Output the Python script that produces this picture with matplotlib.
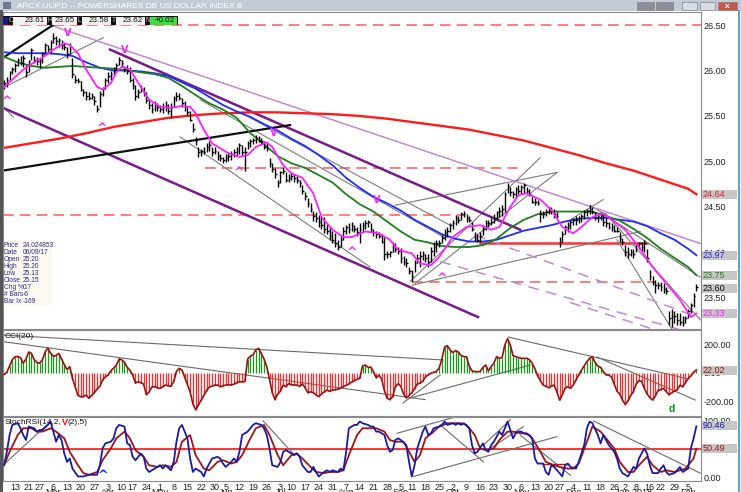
import numpy as np
import matplotlib.pyplot as plt
from matplotlib.patches import Rectangle

plt.rcParams['font.family'] = ['Liberation Sans', 'DejaVu Sans']

# daily bars, UUP Feb 7 2017 .. Feb 8 2018 (bar index 0..253)
high = [
    25.90, 25.93, 26.00, 26.04, 26.08, 26.14, 26.16, 26.17, 26.06, 26.12,
    26.25, 26.16, 26.15, 26.14, 26.20, 26.30, 26.28, 26.34, 26.41, 26.38,
    26.36, 26.33, 26.30, 26.26, 26.30, 26.14, 25.95, 25.92, 25.88, 25.80,
    25.77, 25.76, 25.75, 25.72, 25.62, 25.78, 25.82, 25.92, 25.98, 26.00,
    26.04, 26.08, 26.15, 26.12, 26.05, 26.06, 26.04, 25.92, 25.84, 25.80,
    25.84, 25.82, 25.76, 25.68, 25.64, 25.66, 25.64, 25.62, 25.64, 25.66,
    25.63, 25.64, 25.72, 25.76, 25.75, 25.70, 25.66, 25.60, 25.56, 25.42,
    25.27, 25.16, 25.14, 25.16, 25.20, 25.22, 25.16, 25.16, 25.12, 25.08,
    25.05, 25.08, 25.10, 25.12, 25.14, 25.16, 25.20, 25.18, 25.16, 25.22,
    25.25, 25.26, 25.29, 25.28, 25.26, 25.22, 25.20, 25.04, 24.98, 24.93,
    24.80, 24.90, 24.94, 24.88, 24.86, 24.88, 24.86, 24.84, 24.80, 24.74,
    24.66, 24.60, 24.54, 24.46, 24.44, 24.41, 24.40, 24.39, 24.32, 24.28,
    24.24, 24.21, 24.14, 24.18, 24.28, 24.30, 24.32, 24.34, 24.30, 24.28,
    24.32, 24.34, 24.36, 24.36, 24.32, 24.26, 24.24, 24.22, 24.20, 24.17,
    24.02, 24.02, 24.12, 24.10, 24.06, 24.05, 23.96, 23.94, 23.84, 23.81,
    23.92, 23.98, 24.02, 24.02, 23.98, 23.98, 24.06, 24.12, 24.14, 24.14,
    24.19, 24.26, 24.28, 24.32, 24.36, 24.41, 24.40, 24.44, 24.46, 24.42,
    24.40, 24.34, 24.22, 24.20, 24.22, 24.30, 24.36, 24.36, 24.38, 24.42,
    24.46, 24.50, 24.52, 24.67, 24.76, 24.72, 24.68, 24.72, 24.74, 24.74,
    24.76, 24.72, 24.70, 24.62, 24.60, 24.58, 24.47, 24.46, 24.48, 24.50,
    24.50, 24.48, 24.44, 24.17, 24.24, 24.30, 24.34, 24.36, 24.38, 24.40,
    24.40, 24.42, 24.47, 24.48, 24.52, 24.50, 24.44, 24.42, 24.44, 24.41,
    24.38, 24.34, 24.32, 24.30, 24.28, 24.22, 24.16, 24.08, 24.06, 24.04,
    24.04, 24.10, 24.12, 24.12, 24.14, 24.04, 23.81, 23.74, 23.70, 23.68,
    23.68, 23.66, 23.62, 23.36, 23.38, 23.36, 23.34, 23.34, 23.30, 23.30,
    23.38, 23.44, 23.55, 23.65]
low = [
    25.80, 25.82, 25.88, 25.96, 25.98, 26.05, 26.06, 26.04, 25.93, 25.98,
    26.12, 26.08, 26.06, 26.03, 26.08, 26.18, 26.20, 26.19, 26.30, 26.28,
    26.26, 26.24, 26.22, 26.14, 26.18, 25.92, 25.86, 25.86, 25.78, 25.72,
    25.68, 25.68, 25.69, 25.62, 25.54, 25.60, 25.72, 25.80, 25.86, 25.90,
    25.95, 25.98, 26.06, 26.04, 25.98, 25.96, 25.87, 25.80, 25.68, 25.70,
    25.76, 25.72, 25.64, 25.58, 25.53, 25.56, 25.55, 25.54, 25.53, 25.56,
    25.52, 25.48, 25.60, 25.66, 25.68, 25.60, 25.56, 25.51, 25.44, 25.32,
    25.18, 25.05, 25.06, 25.08, 25.10, 25.11, 25.06, 25.08, 25.02, 25.00,
    24.98, 24.99, 25.00, 25.02, 25.05, 25.06, 25.08, 25.06, 24.90, 25.14,
    25.16, 25.19, 25.20, 25.21, 25.18, 25.14, 25.12, 24.94, 24.88, 24.82,
    24.72, 24.76, 24.86, 24.77, 24.78, 24.80, 24.78, 24.76, 24.72, 24.64,
    24.58, 24.50, 24.44, 24.35, 24.33, 24.28, 24.26, 24.21, 24.20, 24.14,
    24.10, 24.06, 24.03, 24.06, 24.14, 24.20, 24.21, 24.24, 24.22, 24.18,
    24.10, 24.22, 24.26, 24.28, 24.22, 24.18, 24.16, 24.16, 24.10, 23.92,
    23.94, 23.95, 24.00, 24.00, 23.98, 23.88, 23.86, 23.84, 23.76, 23.68,
    23.78, 23.88, 23.84, 23.92, 23.90, 23.84, 23.90, 23.96, 24.00, 24.06,
    24.10, 24.14, 24.17, 24.22, 24.26, 24.30, 24.32, 24.36, 24.39, 24.34,
    24.33, 24.24, 24.13, 24.12, 24.12, 24.19, 24.25, 24.28, 24.30, 24.32,
    24.37, 24.39, 24.40, 24.45, 24.65, 24.62, 24.60, 24.60, 24.64, 24.64,
    24.65, 24.64, 24.62, 24.54, 24.52, 24.52, 24.33, 24.38, 24.40, 24.42,
    24.42, 24.38, 24.38, 24.06, 24.12, 24.20, 24.22, 24.26, 24.30, 24.30,
    24.32, 24.34, 24.37, 24.40, 24.42, 24.42, 24.36, 24.34, 24.36, 24.29,
    24.28, 24.26, 24.24, 24.22, 24.22, 24.12, 24.08, 23.96, 23.94, 23.96,
    23.94, 24.00, 24.04, 24.02, 24.00, 23.90, 23.70, 23.64, 23.55, 23.60,
    23.58, 23.56, 23.54, 23.20, 23.18, 23.22, 23.20, 23.20, 23.19, 23.22,
    23.28, 23.34, 23.40, 23.58]
close = [
    25.86, 25.90, 25.98, 26.02, 26.06, 26.12, 26.08, 26.14, 25.98, 26.10,
    26.22, 26.12, 26.10, 26.12, 26.18, 26.28, 26.24, 26.30, 26.36, 26.32,
    26.34, 26.28, 26.26, 26.18, 26.24, 25.96, 25.90, 25.88, 25.80, 25.76,
    25.72, 25.70, 25.72, 25.66, 25.58, 25.74, 25.80, 25.90, 25.94, 25.96,
    26.00, 26.06, 26.12, 26.08, 26.02, 26.00, 25.90, 25.84, 25.72, 25.76,
    25.80, 25.76, 25.68, 25.62, 25.58, 25.62, 25.60, 25.58, 25.60, 25.62,
    25.56, 25.60, 25.70, 25.72, 25.70, 25.64, 25.60, 25.54, 25.46, 25.36,
    25.22, 25.10, 25.12, 25.10, 25.16, 25.18, 25.10, 25.12, 25.06, 25.04,
    25.02, 25.04, 25.06, 25.08, 25.10, 25.12, 25.18, 25.10, 25.10, 25.20,
    25.22, 25.24, 25.26, 25.24, 25.22, 25.16, 25.14, 24.98, 24.92, 24.86,
    24.76, 24.88, 24.90, 24.80, 24.82, 24.84, 24.82, 24.80, 24.76, 24.68,
    24.62, 24.54, 24.48, 24.40, 24.38, 24.34, 24.30, 24.26, 24.24, 24.18,
    24.14, 24.10, 24.06, 24.14, 24.24, 24.28, 24.26, 24.30, 24.26, 24.22,
    24.26, 24.30, 24.32, 24.34, 24.26, 24.22, 24.20, 24.18, 24.12, 23.98,
    23.98, 24.00, 24.08, 24.04, 24.02, 23.94, 23.90, 23.88, 23.80, 23.74,
    23.88, 23.94, 23.96, 23.98, 23.94, 23.90, 24.02, 24.06, 24.10, 24.10,
    24.16, 24.22, 24.24, 24.30, 24.32, 24.38, 24.36, 24.42, 24.42, 24.38,
    24.36, 24.26, 24.16, 24.14, 24.18, 24.26, 24.32, 24.32, 24.34, 24.38,
    24.44, 24.46, 24.48, 24.64, 24.72, 24.66, 24.64, 24.70, 24.68, 24.72,
    24.74, 24.68, 24.64, 24.56, 24.56, 24.54, 24.42, 24.42, 24.44, 24.48,
    24.46, 24.42, 24.40, 24.12, 24.20, 24.28, 24.30, 24.34, 24.36, 24.36,
    24.38, 24.40, 24.44, 24.46, 24.48, 24.44, 24.38, 24.40, 24.40, 24.34,
    24.32, 24.28, 24.28, 24.24, 24.24, 24.16, 24.12, 24.00, 23.98, 24.00,
    23.98, 24.08, 24.10, 24.06, 24.10, 23.94, 23.74, 23.68, 23.64, 23.64,
    23.62, 23.60, 23.58, 23.28, 23.30, 23.30, 23.26, 23.24, 23.22, 23.28,
    23.36, 23.42, 23.52, 23.62]

# moving averages as shown on the chart
ma_idx = [0, 10, 20, 30, 40, 50, 60, 70, 80, 90, 100, 110, 120, 130, 140, 150,
          160, 170, 180, 190, 200, 210, 220, 230, 240, 250, 253]
ma200 = [25.15, 25.20, 25.25, 25.31, 25.38, 25.43, 25.48, 25.51, 25.53, 25.54,
         25.54, 25.53, 25.52, 25.50, 25.47, 25.43, 25.39, 25.35, 25.29, 25.23,
         25.15, 25.07, 24.98, 24.90, 24.80, 24.70, 24.64]
ma5_idx = list(range(0, 251, 5)) + [253]
ma_blue = [26.20, 26.19, 26.19, 26.19, 26.18, 26.16, 26.09, 26.03, 26.00, 26.00,
           25.99, 25.97, 25.94, 25.87, 25.80, 25.71, 25.62, 25.55, 25.49, 25.41,
           25.34, 25.25, 25.17, 25.07, 24.96, 24.82, 24.71, 24.61, 24.54, 24.46,
           24.36, 24.28, 24.20, 24.15, 24.12, 24.12, 24.14, 24.19, 24.24, 24.27,
           24.30, 24.34, 24.37, 24.38, 24.38, 24.36, 24.34, 24.29, 24.21, 24.14,
           24.04, 23.97]
ma_green = [26.15, 26.09, 26.05, 26.03, 26.04, 26.05, 26.04, 26.03, 26.02, 26.00,
            25.98, 25.96, 25.92, 25.83, 25.73, 25.64, 25.57, 25.48, 25.31, 25.19,
            25.06, 24.98, 24.93, 24.85, 24.77, 24.64, 24.53, 24.45, 24.34, 24.23,
            24.14, 24.11, 24.07, 24.06, 24.06, 24.08, 24.15, 24.27, 24.36, 24.42,
            24.45, 24.45, 24.45, 24.45, 24.40, 24.35, 24.26, 24.16, 24.04, 23.94,
            23.84, 23.75]
mag_idx = [0, 3, 7, 11, 14, 18, 22, 24, 27, 30, 34, 36, 39, 41, 43, 46, 50, 53, 57,
           61, 65, 68, 70, 73, 76, 82, 86, 89, 92, 96, 98, 102, 105, 109, 113, 116,
           120, 124, 127, 132, 137, 141, 144, 149, 152, 156, 159, 164, 169, 174, 178,
           181, 185, 188, 191, 196, 200, 204, 208, 211, 215, 219, 222, 227, 232, 237,
           242, 247, 251, 253]
mag_val = [25.82, 25.90, 26.01, 26.09, 26.14, 26.23, 26.30, 26.28, 26.19, 26.01,
           25.82, 25.79, 25.86, 25.98, 26.04, 26.01, 25.82, 25.68, 25.60, 25.59,
           25.61, 25.60, 25.53, 25.35, 25.20, 25.09, 25.05, 25.07, 25.16, 25.21,
           25.16, 24.96, 24.87, 24.82, 24.65, 24.39, 24.25, 24.17, 24.17, 24.23,
           24.21, 24.14, 24.03, 23.99, 23.88, 23.86, 23.95, 24.17, 24.28, 24.30,
           24.25, 24.28, 24.50, 24.63, 24.65, 24.58, 24.47, 24.28, 24.21, 24.28,
           24.39, 24.43, 24.36, 24.25, 24.06, 23.84, 23.66, 23.48, 23.29, 23.33]

# drawn trend lines: (bar0, price0, bar1, price1)
black_lines = [(-0.4, 26.14, 17.9, 26.50), (-0.4, 24.90, 104.5, 25.40)]
purple_lines = [(-0.4, 25.59, 173.2, 23.29), (38.7, 26.23, 188.6, 24.25)]
violet_lines = [(16.8, 26.50, 254.4, 24.10)]
violet_dashed = [(172.1, 24.19, 254.4, 23.28), (159.4, 23.90, 247.1, 23.15),
                 (206.9, 23.45, 237.9, 23.15)]
gray_lines = [(-0.4, 25.81, 36.2, 26.36), (-0.4, 25.60, 3.3, 25.49),
              (64.3, 25.27, 133.8, 23.84), (71.6, 25.68, 161.2, 24.16),
              (86.3, 25.54, 163.0, 24.30), (148.4, 23.68, 195.9, 25.04),
              (150.2, 23.66, 202.1, 24.88), (142.9, 24.52, 202.1, 24.88),
              (149.1, 23.64, 232.5, 24.23), (206.9, 24.36, 218.9, 24.58),
              (214.2, 24.52, 254.4, 23.73), (224.0, 24.14, 244.2, 23.15),
              (219.7, 24.43, 254.4, 23.26)]
dash_level = [26.50, 24.93, 24.41, 23.68]
dash_from = [-0.4, 73.5, -0.4, 149.1]
dash_to = [254.7, 187.9, 168.5, 237.9]
red_level, red_from, red_to = 24.10, 173.9, 235.0

mark_idx = [23.4, 44.2, 1.2, 35.8, 85.9, 98.7, 127.2, 136.0, 160.1]
mark_price = [26.41, 26.23, 25.66, 25.36, 24.88, 25.31, 24.00, 24.58, 23.71]
mark_sym = ['V', 'V', '^', '^', '^', 'V', '^', 'V', '^']

# CCI(20)
cci = [
    -10, 5, 50, 95, 115, 118, 110, 70, 100, 150,
    140, 95, 75, 70, 95, 150, 178, 140, 120, 125,
    140, 100, 60, 25, 45, -40, -100, -160, -170, -168,
    -158, -180, -160, -140, -115, -95, -50, -28, -15, 15,
    35, 55, 100, 95, 75, 40, 20, -15, -72, -62,
    -70, -80, -155, -135, -100, -98, -105, -110, -98, -86,
    -92, -95, -60, 12, 33, 22, -30, -80, -135, -220,
    -262, -230, -195, -160, -125, -100, -95, -86, -86, -98,
    -92, -86, -84, -86, -80, -70, -62, -64, -60, 100,
    120, 130, 165, 176, 140, 100, 45, -45, -140, -190,
    -150, -130, -86, -98, -76, -84, -86, -86, -96, -78,
    -105, -140, -135, -140, -157, -168, -150, -135, -122, -132,
    -122, -121, -115, -108, -98, -88, -78, -65, -55, -45,
    -38, 50, 57, 40, 42, 10, -35, -15, -45, -125,
    -180, -190, -168, -100, -76, -95, -150, -178, -160, -140,
    -112, -80, -72, -60, -28, -14, -2, 5, 12, 35,
    100, 185, 195, 165, 145, 160, 150, 125, 117, 115,
    50, 15, 10, 10, 10, 40, 57, 15, 45, 70,
    117, 105, 110, 200, 245, 200, 125, 117, 110, 105,
    105, 105, 95, 70, 30, -20, -55, -86, -95, -105,
    -95, -86, -133, -193, -157, -110, -98, -110, -86, -50,
    -14, 20, 50, 81, 105, 117, 75, 50, 40, 10,
    -14, -14, -30, -80, -130, -150, -193, -225, -200, -160,
    -133, -80, -55, -60, -110, -150, -175, -193, -165, -125,
    -118, -110, -133, -155, -140, -130, -120, -88, -98, -70,
    -40, -20, 5, 22]
cci_lines = [(-0.4, 271, 160.5, 93), (-0.4, 224, 153.9, -190),
             (145.8, -214, 159.4, -14), (148.4, -179, 192.3, 57),
             (184.2, 257, 249.6, -40), (216.7, 114, 252.6, -193)]

# StochRSI fast / slow
fast_idx = [0, 1, 2, 3, 5, 6, 7, 8, 9, 11, 12, 13, 14, 16, 17, 18, 19, 20, 21, 22,
            23, 24, 25, 27, 29, 31, 34, 35, 36, 37, 39, 40, 41, 42, 44, 45, 46, 47,
            48, 50, 51, 52, 53, 55, 56, 57, 58, 59, 61, 62, 63, 64, 65, 67, 68, 69,
            70, 72, 73, 74, 75, 76, 78, 79, 80, 81, 83, 84, 85, 86, 87, 89, 90, 91,
            92, 94, 95, 96, 97, 98, 100, 101, 102, 103, 105, 106, 107, 108, 109, 111,
            112, 113, 114, 115, 117, 118, 119, 120, 122, 123, 124, 125, 126, 128, 129,
            130, 131, 133, 134, 135, 136, 137, 139, 140, 141, 142, 143, 144, 145, 147,
            148, 149, 150, 151, 153, 154, 155, 156, 157, 159, 160, 161, 162, 164, 165,
            166, 167, 168, 170, 171, 172, 173, 175, 176, 177, 178, 179, 181, 182, 183,
            184, 186, 187, 188, 189, 190, 192, 193, 194, 195, 197, 198, 199, 200, 201,
            203, 204, 205, 206, 207, 209, 210, 212, 213, 214, 215, 217, 218, 219, 220,
            221, 223, 224, 225, 226, 228, 229, 230, 231, 232, 234, 235, 236, 237, 239,
            240, 241, 242, 243, 245, 246, 247, 248, 250, 251, 252, 253]
fast_val = [21, 45, 75, 93, 96, 87, 75, 66, 90, 87, 81, 84, 84, 93, 99, 81, 63, 75, 66, 42,
            27, 33, 15, 1, 1, 4, 4, 21, 51, 60, 63, 69, 87, 93, 90, 60, 57, 36,
            30, 42, 36, 15, 9, 15, 18, 21, 15, 21, 12, 27, 63, 87, 93, 69, 33, 9,
            15, 9, 1, 15, 24, 33, 36, 33, 24, 18, 27, 33, 27, 45, 75, 81, 87, 93,
            96, 93, 87, 75, 51, 21, 18, 27, 45, 48, 42, 39, 42, 36, 21, 9,
            9, 18, 9, 1, 9, 12, 9, 12, 9, 15, 12, 45, 87, 93, 93,
            99, 96, 93, 90, 90, 81, 81, 75, 57, 45, 48, 66, 69, 66, 57,
            27, 1, 21, 51, 81, 90, 75, 78, 87, 90, 93, 99, 93, 96, 93,
            96, 93, 96, 87, 57, 42, 45, 60, 48, 45, 57, 63, 81, 75, 87,
            99, 69, 78, 81, 81, 78, 75, 69, 33, 24, 24, 9, 4, 21, 18,
            7, 1, 21, 24, 18, 15, 27, 57, 87, 99, 96, 75, 60, 75, 66,
            57, 45, 33, 15, 7, 1, 9, 18, 15, 33, 51, 42, 21, 7, 7,
            15, 21, 9, 4, 7, 12, 18, 9, 15, 51, 69, 90.46]
slow_idx = [0, 2, 5, 7, 10, 12, 14, 17, 19, 22, 24, 27, 29, 31, 34, 36, 39, 41, 44, 46,
            48, 51, 53, 56, 58, 61, 63, 65, 68, 70, 73, 75, 78, 80, 83, 85, 87, 90,
            92, 95, 97, 100, 102, 105, 107, 109, 112, 114, 117, 119, 122, 124, 126,
            129, 131, 134, 136, 139, 141, 143, 146, 148, 150, 152, 154, 157, 159, 162,
            164, 167, 169, 172, 174, 176, 179, 181, 184, 186, 189, 191, 193, 196, 198,
            201, 203, 206, 208, 210, 213, 215, 218, 220, 223, 225, 228, 230, 232, 235,
            237, 240, 242, 245, 247, 249, 252, 253]
slow_val = [21, 45, 75, 87, 87, 81, 81, 87, 81, 69, 45, 21, 7, 4, 9, 30, 51, 69, 81, 69,
            48, 36, 21, 18, 21, 18, 27, 63, 75, 39, 15, 12, 27, 30, 24, 27, 39, 69,
            87, 93, 75, 39, 21, 39, 42, 33, 18, 9, 7, 9, 9, 12, 39,
            75, 87, 87, 87, 81, 66, 63, 63, 45, 27, 39, 69, 81, 90, 96,
            96, 96, 93, 75, 51, 48, 51, 66, 81, 81, 78, 78, 69, 45, 27,
            21, 18, 15, 15, 24, 63, 90, 81, 69, 51, 27, 9, 9, 21, 36,
            21, 9, 12, 9, 12, 15, 33, 50.49]
stoch_lines = [(-0.4, 21, 17, 99), (94.7, 100, 105.6, 42), (143.6, 78, 165.5, 108),
               (149.6, 1, 202, 72), (159.4, 93, 175.2, 27), (175.2, 57, 185, 102),
               (177.6, 51, 189.8, 90), (188.6, 75, 207, 3), (215.4, 100, 254.4, 7)]
stoch_red_seg = (197, 24, 206, 24)

# x axis: weekly ticks (bar index) and month starts
tick_idx = [4, 9, 13, 18, 23, 28, 33, 38, 43, 47, 52, 57, 62, 67, 72, 77, 81, 86, 91, 96,
            101, 105, 110, 115, 120, 125, 130, 135, 140, 145, 149, 154, 159, 164, 169,
            174, 179, 184, 189, 194, 199, 203, 208, 213, 218, 223, 227, 231, 236, 240,
            245, 250]
tick_lbl = ['13', '21', '27', '6', '13', '20', '27', '3', '10', '17', '24', '1', '8', '15',
            '22', '30', '5', '12', '19', '26', '3', '10', '17', '24', '31', '7', '14', '21',
            '28', '5', '11', '18', '25', '2', '9', '16', '23', '30', '6', '13', '20', '27',
            '4', '11', '18', '26', '2', '8', '16', '22', '29', '5']
month_idx = [18, 38, 57, 81, 101, 125, 145, 164, 189, 208, 230, 250]
month_lbl = ['Mar', 'Apr', 'May', 'Jun', 'Jul', 'Aug', 'Sep', 'Oct', 'Nov', 'Dec',
             'Jan 2018', 'Feb']

info_lbl = ['Price', 'Date', 'Open', 'High', 'Low', 'Close', 'Chg %', '# Bars', 'Bar Ix']
info_val = ['24.024853', '06/09/17', '25.20', '25.20', '25.13', '25.15', '0.7', '-6', '-169']

W, H = 741, 492
fig = plt.figure(figsize=(W / 100, H / 100), dpi=100)
fig.patch.set_facecolor('white')


def fx(px):
    return px / W


def fy(py):
    return 1 - py / H


XL, XR = 3, 701
ax_p = fig.add_axes([fx(XL), fy(329), fx(XR) - fx(XL), fy(12) - fy(329)])
ax_c = fig.add_axes([fx(XL), fy(416), fx(XR) - fx(XL), fy(330) - fy(416)])
ax_s = fig.add_axes([fx(XL), fy(481), fx(XR) - fx(XL), fy(417) - fy(481)])

for ax in (ax_p, ax_c, ax_s):
    ax.set_xlim(-0.4, 254.7)
    ax.yaxis.tick_right()
    ax.tick_params(axis='y', length=0, pad=2, labelsize=6.5, colors='#222222')
    ax.tick_params(axis='x', length=0)
    for sp in ax.spines.values():
        sp.set_color('#8a8a8a')
        sp.set_linewidth(0.8)

ax_p.set_ylim(23.159, 26.643)
ax_c.set_ylim(-307, 307)
ax_s.set_ylim(-7.1, 107.1)

idx = np.arange(len(close))

# ---- price panel ----
for lv, a, b in zip(dash_level, dash_from, dash_to):
    ax_p.plot([a, b], [lv, lv], color='#ff5a5a', lw=1.1, dashes=(7, 4), zorder=1)
ax_p.plot([red_from, red_to], [red_level, red_level], color='#ff3030', lw=1.8, zorder=1)
for seg in gray_lines:
    ax_p.plot(seg[0::2], seg[1::2], color='#7c7c7c', lw=0.8, zorder=1)
for seg in violet_lines:
    ax_p.plot(seg[0::2], seg[1::2], color='#c08ad0', lw=1.1, zorder=1)
for seg in violet_dashed:
    ax_p.plot(seg[0::2], seg[1::2], color='#c08ad0', lw=1.1, dashes=(7, 5), zorder=1)
for seg in purple_lines:
    ax_p.plot(seg[0::2], seg[1::2], color='#7a1a8a', lw=1.8, zorder=1)
for seg in black_lines:
    ax_p.plot(seg[0::2], seg[1::2], color='#101010', lw=1.6, zorder=1)

ax_p.plot(ma_idx, ma200, color='#ff1a1a', lw=1.7, zorder=2)
ax_p.plot(ma5_idx, ma_blue, color='#1c2cff', lw=1.3, zorder=2)
ax_p.plot(ma5_idx, ma_green, color='#1f7f1f', lw=1.3, zorder=2)

ax_p.vlines(idx, low, high, color='black', lw=1.0, zorder=3)
ax_p.hlines(close, idx, idx + 0.6, color='black', lw=1.0, zorder=3)
ax_p.plot(mag_idx, mag_val, color='#ff20ff', lw=1.3, zorder=4)

for xi, yi, s in zip(mark_idx, mark_price, mark_sym):
    ax_p.text(xi, yi, s, color='#ff20ff', fontsize=7 if s == 'V' else 9,
              fontweight='bold', ha='center', va='center', zorder=5,
              family='DejaVu Sans')

ax_p.set_yticks([26.5, 26.0, 25.5, 25.0, 24.5, 24.0, 23.5])
ax_p.set_yticklabels(['26.50', '26.00', '25.50', '25.00', '24.50', '24.00', '23.50'])
ax_p.set_xticks([])

# ---- CCI panel ----
cci_arr = np.array(cci)
cols = np.where(cci_arr >= 0, '#1a9a1a', '#ff2a2a')
ax_c.vlines(idx, 0, cci_arr, colors=cols, lw=0.9, zorder=2)
ax_c.plot(idx, cci_arr, color='#9a1010', lw=1.2, zorder=3)
for seg in cci_lines:
    ax_c.plot(seg[0::2], seg[1::2], color='#6a6a6a', lw=0.8, zorder=1)
ax_c.text(244, -255, 'd', color='#1a8a1a', fontsize=7.5, fontweight='bold',
          ha='center', va='center')
ax_c.set_yticks([200, 0, -200])
ax_c.set_yticklabels(['200.00', '0.00', '-200.00'])
ax_c.set_xticks([])
ax_c.text(0.003, 0.93, 'CCI(20)', transform=ax_c.transAxes, fontsize=6,
          color='#111111', va='center')

# ---- StochRSI panel ----
ax_s.axhline(50, color='#ff1010', lw=1.2, zorder=1)
for seg in stoch_lines:
    ax_s.plot(seg[0::2], seg[1::2], color='#6a6a6a', lw=0.8, zorder=1)
ax_s.plot(stoch_red_seg[0::2], stoch_red_seg[1::2], color='#d01010', lw=1.0, zorder=1)
ax_s.plot(slow_idx, slow_val, color='#a01515', lw=1.3, zorder=2)
ax_s.plot(fast_idx, fast_val, color='#1a1aa8', lw=1.3, zorder=3)
ax_s.text(36, 2, '^', color='#2020ff', fontsize=9, fontweight='bold',
          ha='center', va='center', family='DejaVu Sans')
ax_s.set_yticks([100, 50, 0])
ax_s.set_yticklabels(['100.00', '50.00', '0.00'])
t1 = ax_s.text(0.003, 0.92, 'StochRSI(14,2,', transform=ax_s.transAxes, fontsize=6,
               color='#111111', va='center', zorder=6)
t2 = ax_s.annotate('V', xy=(1, 0.5), xycoords=t1, fontsize=6.5, color='#ff0000',
                   fontweight='bold', va='center', ha='left', zorder=6)
ax_s.annotate('(2),5)', xy=(1, 0.5), xycoords=t2, fontsize=6, color='#111111',
              va='center', ha='left', zorder=6)
ax_s.set_xticks(tick_idx)
ax_s.set_xticklabels(tick_lbl, fontsize=6.5, color='#222222')
ax_s.tick_params(axis='x', pad=1.5)


def value_box(ax, val, txt, color):
    ypx = ax.transData.transform((0, val))[1]
    fig.patches.append(Rectangle((fx(702), (ypx - 4.5) / H), fx(35), 9 / H,
                                 transform=fig.transFigure, facecolor='#c6c6c6',
                                 edgecolor='none', zorder=5))
    fig.text(fx(703), ypx / H, txt, color=color, fontsize=6.5, va='center',
             ha='left', zorder=6)


value_box(ax_p, 24.64, '24.64', '#e02020')
value_box(ax_p, 23.97, '23.97', '#2020e0')
value_box(ax_p, 23.75, '23.75', '#1f7f1f')
value_box(ax_p, 23.60, '23.60', '#111111')
value_box(ax_p, 23.33, '23.33', '#ff20ff')
value_box(ax_c, 15, '22.02', '#9a1010')
value_box(ax_s, 92, '90.46', '#1a1aa8')
value_box(ax_s, 50.49, '50.49', '#a01515')

# month names sit under the day numbers, half cut by the window edge
for mi, ml in zip(month_idx, month_lbl):
    xd = ax_s.transData.transform((mi, 0))[0]
    fig.text(xd / W, fy(488), ml, fontsize=6.5, ha='center', va='top', color='#222222')

# ---- window chrome ----
fig.patches.append(Rectangle((0, fy(11)), 1, 11 / H, transform=fig.transFigure,
                             facecolor='#c3cbd6', edgecolor='none'))
fig.patches.append(Rectangle((fx(3), fy(9)), fx(8), 7 / H, transform=fig.transFigure,
                             facecolor='#6a7d95', edgecolor='none'))
fig.text(fx(17), fy(5.5), 'ARCX:UUP,D -- POWERSHARES DB US DOLLAR INDEX B',
         fontsize=6, color='white', va='center', ha='left')
for x0, w, c in [(637, 17, '#8a8f96'), (656, 17, '#8a8f96'), (682, 15, '#d7dde5'),
                 (700, 15, '#d7dde5'), (718, 19, '#c85a4a')]:
    fig.patches.append(Rectangle((fx(x0), fy(10)), fx(w), 8 / H,
                                 transform=fig.transFigure, facecolor=c,
                                 edgecolor='#7d8590', lw=0.5))
fig.text(fx(727.5), fy(6), 'x', fontsize=6, color='white', fontweight='bold',
         ha='center', va='center')

# OHLC strip
fig.patches.append(Rectangle((fx(3), fy(25)), fx(175), 8.5 / H, transform=fig.transFigure,
                             facecolor='#101010', edgecolor='none', zorder=4))
fig.patches.append(Rectangle((fx(3), fy(24.5)), fx(5), 7.5 / H, transform=fig.transFigure,
                             facecolor='#1a1a80', edgecolor='none', zorder=5))
for lab, x0, x1, val, fc in [('O', 8, 47, '23.61', '#f2f2f2'), ('H', 47, 77, '23.65', '#f2f2f2'),
                             ('L', 77, 111, '23.58', '#f2f2f2'), ('T', 111, 145, '23.62', '#f2f2f2'),
                             ('N', 145, 177, '+0.02', '#39e039')]:
    fig.patches.append(Rectangle((fx(x0 + 4.5), fy(24.5)), fx(x1 - x0 - 5), 7.5 / H,
                                 transform=fig.transFigure, facecolor=fc,
                                 edgecolor='none', zorder=5))
    fig.text(fx(x0 + 0.6), fy(20.8), lab, fontsize=4.8, color='#d0d0d0', va='center', zorder=6)
    fig.text(fx(x1 - 2), fy(20.8), val, fontsize=5.8, color='#111111', va='center',
             ha='right', zorder=6)

# cursor info box
fig.patches.append(Rectangle((fx(3.5), fy(306)), fx(48), 64 / H, transform=fig.transFigure,
                             facecolor='#fdfbf1', edgecolor='none', zorder=4))
for k, (lab, val) in enumerate(zip(info_lbl, info_val)):
    yy = fy(245 + 7.1 * k)
    fig.text(fx(3.5), yy, lab, fontsize=4.8, color='#2a2a8a', va='center', zorder=5)
    fig.text(fx(23), yy, val, fontsize=4.8, color='#2a2a8a', va='center', zorder=5)

# window borders
fig.add_artist(plt.Line2D([fx(1.2), fx(1.2)], [fy(11), 0], transform=fig.transFigure,
                          color='#555555', lw=2.2))
fig.add_artist(plt.Line2D([fx(738.5), fx(738.5)], [fy(11), 0], transform=fig.transFigure,
                          color='#3a90d0', lw=1.2))

fig.savefig('out.png', dpi=100)
